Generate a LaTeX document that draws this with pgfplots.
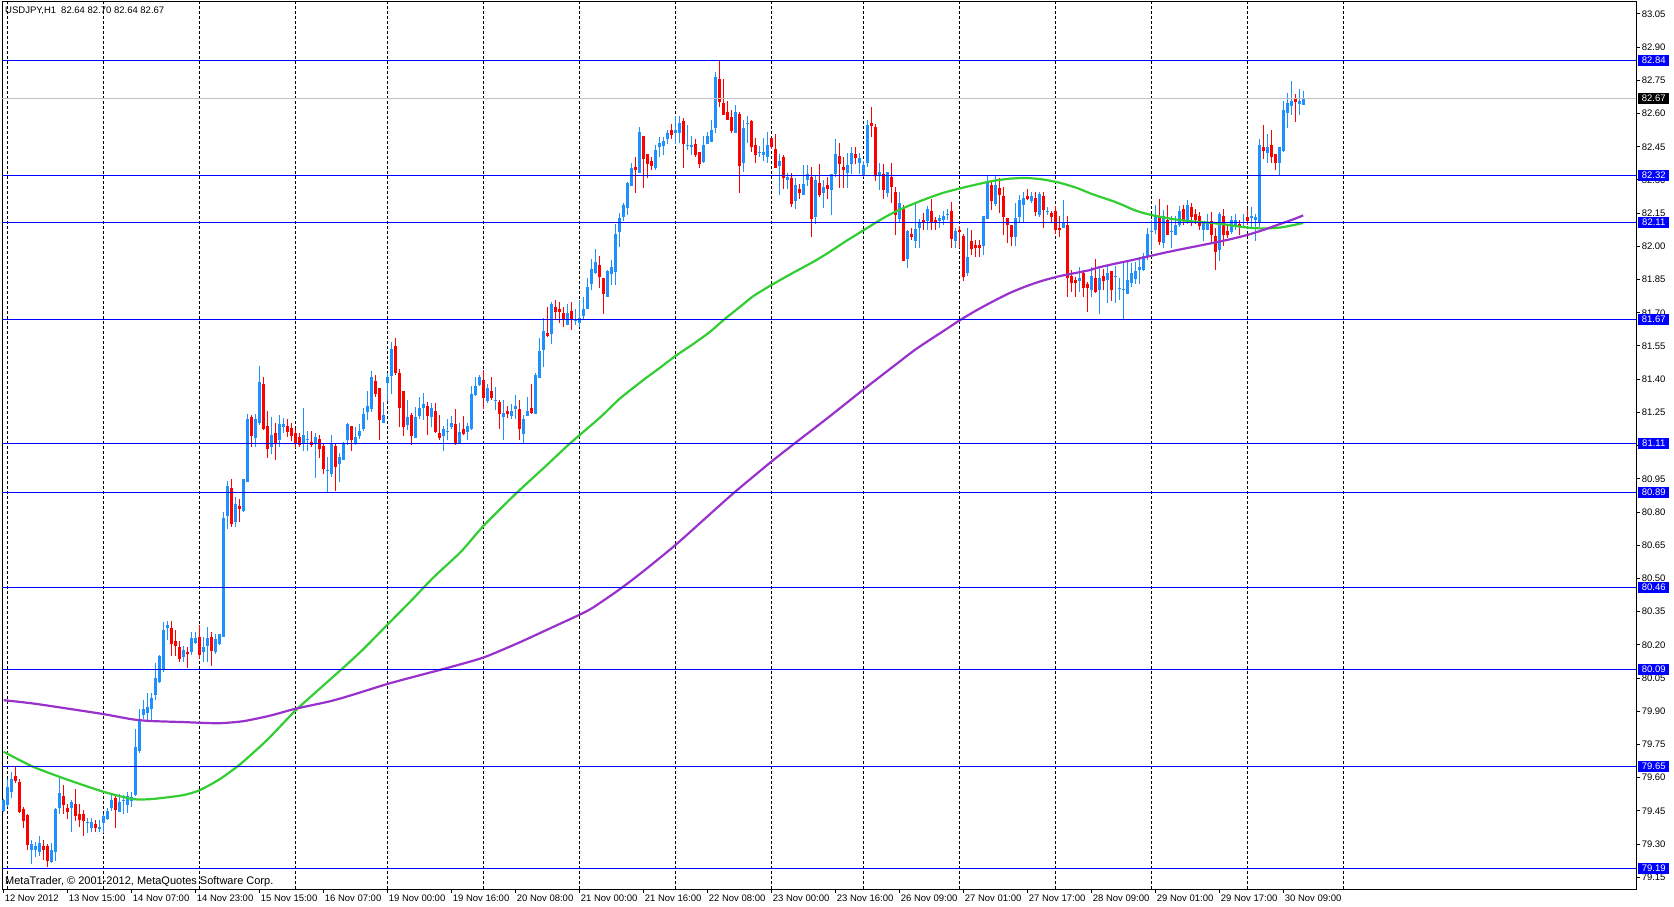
\documentclass[border=0pt]{standalone}
\usepackage{fontspec}
\setmainfont{Liberation Sans}
\usepackage{pgfplots}
\usepackage{pgfplotstable}
\pgfplotsset{compat=1.18}
\definecolor{mtblue}{HTML}{1E90FF}
\definecolor{mtred}{HTML}{FF0000}
\definecolor{lineblue}{HTML}{0000FF}
\definecolor{mtgreen}{HTML}{32CD32}
\definecolor{mtpurple}{HTML}{9932CC}
\definecolor{silverline}{HTML}{C0C0C0}
\newcommand{\tickfont}{\fontsize{9.5}{11}\selectfont}

\pgfplotstableread{
i o h l c
0 79.450 79.505 79.445 79.498
1 79.476 79.596 79.468 79.559
2 79.536 79.626 79.506 79.596
3 79.607 79.646 79.574 79.586
4 79.581 79.596 79.441 79.446
5 79.458 79.468 79.373 79.405
6 79.431 79.438 79.275 79.295
7 79.272 79.318 79.208 79.300
8 79.272 79.310 79.242 79.290
9 79.265 79.337 79.245 79.307
10 79.290 79.318 79.230 79.272
11 79.290 79.300 79.197 79.224
12 79.218 79.306 79.215 79.275
13 79.265 79.461 79.224 79.458
14 79.464 79.604 79.438 79.529
15 79.517 79.566 79.435 79.476
16 79.465 79.483 79.413 79.446
17 79.464 79.501 79.355 79.491
18 79.480 79.548 79.405 79.426
19 79.438 79.479 79.378 79.408
20 79.438 79.456 79.336 79.405
21 79.396 79.416 79.348 79.401
22 79.373 79.416 79.355 79.398
23 79.390 79.408 79.355 79.373
24 79.370 79.408 79.355 79.375
25 79.396 79.435 79.352 79.428
26 79.413 79.461 79.408 79.449
27 79.461 79.525 79.450 79.498
28 79.506 79.528 79.373 79.453
29 79.446 79.528 79.446 79.488
30 79.495 79.521 79.435 79.498
31 79.476 79.536 79.441 79.516
32 79.495 79.536 79.468 79.513
33 79.521 79.818 79.516 79.739
34 79.721 79.908 79.712 79.867
35 79.882 79.953 79.867 79.908
36 79.893 79.983 79.860 79.920
37 79.908 79.983 79.860 79.962
38 79.973 80.119 79.953 80.051
39 80.033 80.153 80.029 80.149
40 80.086 80.304 80.078 80.266
41 80.278 80.307 80.221 80.288
42 80.278 80.307 80.149 80.203
43 80.217 80.266 80.149 80.196
44 80.191 80.217 80.123 80.138
45 80.146 80.194 80.123 80.176
46 80.167 80.191 80.096 80.158
47 80.166 80.257 80.153 80.232
48 80.209 80.257 80.203 80.232
49 80.236 80.289 80.138 80.156
50 80.166 80.236 80.123 80.188
51 80.196 80.279 80.123 80.229
52 80.236 80.256 80.105 80.173
53 80.166 80.247 80.158 80.226
54 80.206 80.251 80.199 80.247
55 80.236 80.800 80.236 80.775
56 80.781 80.940 80.722 80.917
57 80.908 80.948 80.733 80.745
58 80.756 80.869 80.733 80.836
59 80.827 80.858 80.756 80.813
60 80.806 80.950 80.800 80.948
61 80.937 81.245 80.935 81.220
62 81.227 81.238 81.094 81.144
63 81.135 81.245 81.094 81.220
64 81.203 81.459 81.195 81.387
65 81.378 81.409 81.170 81.176
66 81.188 81.256 81.045 81.085
67 81.094 81.227 81.062 81.147
68 81.155 81.200 81.034 81.113
69 81.125 81.238 81.094 81.197
70 81.185 81.223 81.159 81.197
71 81.188 81.220 81.140 81.162
72 81.180 81.200 81.122 81.143
73 81.158 81.177 81.091 81.113
74 81.137 81.155 81.094 81.105
75 81.113 81.268 81.077 81.147
76 81.128 81.165 81.077 81.130
77 81.116 81.165 81.094 81.104
78 81.114 81.158 80.955 81.137
79 81.130 81.150 81.045 81.086
80 81.099 81.113 80.971 80.994
81 80.988 81.049 80.884 80.990
82 80.971 81.147 80.956 81.107
83 81.098 81.110 80.896 81.004
84 81.015 81.067 80.937 81.049
85 81.034 81.117 81.034 81.114
86 81.125 81.200 81.105 81.197
87 81.188 81.188 81.077 81.125
88 81.113 81.182 81.105 81.140
89 81.143 81.197 81.128 81.165
90 81.174 81.268 81.165 81.245
91 81.253 81.347 81.215 81.281
92 81.265 81.436 81.253 81.409
93 81.394 81.417 81.319 81.334
94 81.360 81.360 81.125 81.215
95 81.203 81.298 81.200 81.238
96 81.384 81.429 81.302 81.409
97 81.414 81.569 81.332 81.536
98 81.549 81.584 81.421 81.426
99 81.429 81.446 81.182 81.272
100 81.346 81.346 81.143 81.185
101 81.192 81.305 81.170 81.230
102 81.238 81.248 81.102 81.143
103 81.135 81.275 81.135 81.230
104 81.233 81.320 81.218 81.268
105 81.272 81.336 81.215 81.287
106 81.278 81.298 81.150 81.233
107 81.227 81.293 81.182 81.268
108 81.256 81.293 81.155 81.162
109 81.155 81.237 81.127 81.135
110 81.142 81.188 81.076 81.177
111 81.162 81.222 81.124 81.167
112 81.182 81.233 81.177 81.203
113 81.197 81.267 81.105 81.109
114 81.109 81.200 81.109 81.162
115 81.177 81.233 81.147 81.152
116 81.162 81.200 81.127 81.188
117 81.177 81.368 81.172 81.335
118 81.328 81.411 81.323 81.368
119 81.373 81.418 81.368 81.408
120 81.396 81.441 81.267 81.317
121 81.301 81.378 81.293 81.358
122 81.347 81.408 81.305 81.317
123 81.303 81.365 81.260 81.305
124 81.298 81.305 81.177 81.245
125 81.227 81.305 81.127 81.248
126 81.255 81.278 81.225 81.245
127 81.233 81.290 81.218 81.257
128 81.267 81.328 81.222 81.278
129 81.267 81.308 81.127 81.177
130 81.152 81.237 81.109 81.218
131 81.233 81.320 81.233 81.255
132 81.269 81.378 81.245 81.249
133 81.245 81.429 81.245 81.418
134 81.406 81.587 81.406 81.527
135 81.531 81.677 81.456 81.617
136 81.610 81.727 81.590 81.595
137 81.603 81.750 81.557 81.739
138 81.727 81.757 81.671 81.704
139 81.716 81.750 81.655 81.704
140 81.697 81.727 81.634 81.667
141 81.644 81.739 81.644 81.697
142 81.707 81.750 81.624 81.670
143 81.662 81.715 81.644 81.670
144 81.655 81.757 81.634 81.677
145 81.685 81.772 81.670 81.719
146 81.719 81.858 81.715 81.817
147 81.828 81.945 81.805 81.896
148 81.880 81.986 81.873 81.930
149 81.915 81.956 81.813 81.862
150 81.858 81.858 81.694 81.787
151 81.772 81.893 81.772 81.888
152 81.875 81.938 81.825 81.908
153 81.885 82.103 81.825 82.055
154 82.066 82.149 81.995 82.129
155 82.133 82.197 82.115 82.186
156 82.174 82.290 82.141 82.287
157 82.272 82.377 82.272 82.352
158 82.359 82.402 82.242 82.344
159 82.332 82.540 82.332 82.517
160 82.498 82.498 82.265 82.394
161 82.417 82.417 82.307 82.372
162 82.387 82.402 82.347 82.362
163 82.352 82.457 82.347 82.435
164 82.447 82.492 82.405 82.465
165 82.453 82.492 82.412 82.477
166 82.485 82.528 82.462 82.514
167 82.525 82.555 82.483 82.502
168 82.513 82.588 82.462 82.525
169 82.513 82.588 82.468 82.558
170 82.566 82.578 82.355 82.462
171 82.453 82.548 82.435 82.457
172 82.447 82.498 82.412 82.456
173 82.462 82.487 82.405 82.412
174 82.427 82.427 82.352 82.372
175 82.382 82.498 82.377 82.457
176 82.462 82.517 82.462 82.498
177 82.472 82.573 82.472 82.525
178 82.537 82.788 82.513 82.766
179 82.754 82.840 82.630 82.653
180 82.649 82.754 82.593 82.593
181 82.608 82.656 82.570 82.570
182 82.585 82.615 82.513 82.522
183 82.513 82.638 82.513 82.608
184 82.597 82.608 82.242 82.362
185 82.375 82.570 82.337 82.537
186 82.555 82.588 82.468 82.558
187 82.567 82.573 82.427 82.447
188 82.456 82.490 82.375 82.412
189 82.424 82.453 82.402 82.427
190 82.412 82.490 82.387 82.427
191 82.402 82.517 82.377 82.457
192 82.490 82.490 82.438 82.447
193 82.438 82.507 82.355 82.355
194 82.362 82.417 82.231 82.387
195 82.402 82.412 82.257 82.307
196 82.299 82.332 82.257 82.314
197 82.310 82.332 82.179 82.191
198 82.206 82.307 82.167 82.277
199 82.258 82.284 82.212 82.239
200 82.231 82.367 82.231 82.284
201 82.299 82.367 82.272 82.325
202 82.314 82.359 82.043 82.123
203 82.133 82.322 82.103 82.299
204 82.287 82.374 82.224 82.231
205 82.242 82.299 82.174 82.269
206 82.277 82.314 82.216 82.257
207 82.254 82.326 82.141 82.326
208 82.329 82.487 82.314 82.417
209 82.408 82.465 82.264 82.372
210 82.359 82.405 82.264 82.347
211 82.332 82.420 82.264 82.367
212 82.372 82.447 82.329 82.424
213 82.417 82.447 82.372 82.397
214 82.377 82.420 82.329 82.400
215 82.322 82.387 82.314 82.367
216 82.375 82.573 82.360 82.548
217 82.558 82.631 82.495 82.545
218 82.540 82.555 82.296 82.317
219 82.322 82.375 82.254 82.337
220 82.329 82.372 82.216 82.254
221 82.239 82.337 82.224 82.337
222 82.314 82.375 82.194 82.266
223 82.247 82.269 82.051 82.141
224 82.122 82.247 82.111 82.194
225 82.171 82.186 81.935 81.935
226 81.945 82.076 81.903 82.070
227 82.055 82.081 82.028 82.043
228 82.025 82.191 81.991 82.078
229 82.084 82.122 81.994 82.107
230 82.119 82.152 82.076 82.107
231 82.114 82.182 82.073 82.168
232 82.159 82.216 82.076 82.104
233 82.119 82.134 82.076 82.107
234 82.116 82.141 82.081 82.128
235 82.119 82.159 82.096 82.137
236 82.143 82.171 82.119 82.146
237 82.159 82.201 81.994 82.033
238 82.025 82.081 81.991 82.070
239 82.076 82.091 81.991 82.066
240 82.046 82.055 81.844 81.863
241 81.878 82.085 81.866 81.950
242 82.025 82.073 81.960 81.986
243 82.006 82.028 81.953 81.994
244 82.006 82.028 81.953 81.994
245 82.001 82.137 81.960 82.137
246 82.122 82.317 82.122 82.296
247 82.277 82.299 82.164 82.204
248 82.191 82.317 82.182 82.277
249 82.262 82.307 82.149 82.231
250 82.227 82.269 82.051 82.134
251 82.129 82.129 82.016 82.096
252 82.096 82.096 82.001 82.043
253 82.043 82.197 82.001 82.126
254 82.134 82.232 82.107 82.209
255 82.189 82.247 82.107 82.218
256 82.227 82.257 82.209 82.212
257 82.206 82.247 82.194 82.227
258 82.218 82.247 82.137 82.156
259 82.141 82.247 82.134 82.236
260 82.227 82.247 82.084 82.164
261 82.158 82.179 82.141 82.161
262 82.149 82.159 82.111 82.134
263 82.159 82.182 82.054 82.076
264 82.085 82.137 82.043 82.076
265 82.085 82.209 82.081 82.107
266 82.096 82.137 81.772 81.855
267 81.866 81.893 81.795 81.835
268 81.847 81.863 81.772 81.835
269 81.844 81.908 81.795 81.858
270 81.881 81.893 81.772 81.813
271 81.829 81.840 81.704 81.813
272 81.802 81.905 81.772 81.865
273 81.855 81.945 81.790 81.795
274 81.802 81.905 81.694 81.855
275 81.865 81.900 81.802 81.844
276 81.850 81.911 81.745 81.878
277 81.890 81.890 81.754 81.802
278 81.862 81.911 81.745 81.865
279 81.810 81.855 81.760 81.813
280 81.805 81.923 81.670 81.807
281 81.787 81.938 81.787 81.847
282 81.835 81.923 81.817 81.878
283 81.852 81.930 81.829 81.890
284 81.893 81.950 81.829 81.905
285 81.893 81.968 81.890 81.956
286 81.953 82.081 81.938 82.055
287 82.066 82.121 81.983 82.070
288 82.073 82.186 82.055 82.141
289 82.134 82.216 82.006 82.021
290 82.016 82.164 81.991 82.137
291 82.121 82.186 82.051 82.051
292 82.066 82.137 81.991 82.070
293 82.051 82.137 82.051 82.096
294 82.096 82.182 82.088 82.159
295 82.168 82.186 82.096 82.121
296 82.121 82.209 82.103 82.186
297 82.176 82.194 82.091 82.134
298 82.146 82.168 82.103 82.121
299 82.137 82.156 82.073 82.091
300 82.073 82.114 82.025 82.114
301 82.073 82.146 82.073 82.111
302 82.115 82.156 82.021 82.051
303 82.046 82.081 81.893 81.975
304 81.983 82.156 81.933 82.146
305 82.137 82.171 82.001 82.051
306 82.070 82.103 82.040 82.051
307 82.066 82.137 82.058 82.118
308 82.088 82.146 82.073 82.121
309 82.103 82.121 82.051 82.088
310 82.090 82.146 82.081 82.092
311 82.131 82.167 82.096 82.115
312 82.126 82.179 82.081 82.137
313 82.121 82.146 82.025 82.133
314 82.111 82.487 82.088 82.457
315 82.447 82.547 82.393 82.432
316 82.423 82.507 82.378 82.447
317 82.457 82.525 82.375 82.405
318 82.417 82.417 82.344 82.378
319 82.378 82.447 82.322 82.447
320 82.432 82.658 82.427 82.616
321 82.603 82.691 82.533 82.649
322 82.633 82.748 82.593 82.658
323 82.664 82.688 82.563 82.653
324 82.645 82.713 82.593 82.658
325 82.640 82.700 82.640 82.670
}\candles

\pgfplotstableread{
i v
0 79.717
7.4 79.649
15.8 79.592
25 79.536
32.4 79.503
37.4 79.504
44.9 79.521
49.1 79.544
54.1 79.594
59.1 79.660
65.8 79.769
72.9 79.902
79.1 80.003
85 80.098
89.9 80.180
95.9 80.290
101.8 80.398
107.6 80.507
114.3 80.620
120 80.738
128.3 80.887
135.8 81.012
141.6 81.110
149.1 81.227
154.1 81.313
159.9 81.396
164.1 81.452
167.9 81.504
172.4 81.559
176.6 81.614
179.9 81.666
184.1 81.727
187.4 81.775
191.9 81.825
197.4 81.881
202.4 81.930
205.7 81.966
210.8 82.026
215 82.073
219.1 82.119
222.4 82.152
226.6 82.186
230.8 82.216
234.9 82.242
239.1 82.262
243.3 82.280
247.4 82.296
251.6 82.306
255.8 82.309
259.9 82.302
264.1 82.287
268.3 82.264
271.6 82.240
274.1 82.224
277.4 82.204
279.9 82.186
282.4 82.166
284.9 82.151
287.4 82.140
289.9 82.131
292.4 82.123
294.9 82.117
298.3 82.111
302.4 82.105
306.6 82.096
309.1 82.089
311.6 82.084
314.9 82.081
319.1 82.085
322.4 82.096
324.9 82.106
}\greenma

\pgfplotstableread{
i v
0 79.950
7.4 79.935
16 79.912
25 79.887
32 79.864
36.6 79.856
45 79.851
49 79.848
54.1 79.846
59.9 79.855
66.6 79.880
72.9 79.911
81.6 79.945
87.4 79.975
95.9 80.023
104.1 80.063
110.8 80.095
120 80.143
129.1 80.212
137.4 80.281
144.1 80.337
147.4 80.369
154.1 80.452
159.9 80.532
167.9 80.650
174.9 80.763
182.4 80.884
191.9 81.027
197.9 81.112
205.8 81.222
215 81.354
224.1 81.481
227.4 81.527
230.8 81.569
234.9 81.617
239.1 81.667
243.3 81.712
247.4 81.752
251.6 81.790
255.8 81.821
259.9 81.846
264.1 81.866
268.3 81.881
271.6 81.893
273.3 81.903
277.4 81.920
281.6 81.936
285.8 81.953
289.9 81.970
294.1 81.986
298.3 82.001
302.4 82.016
306.6 82.032
310.8 82.051
314.9 82.074
319.1 82.101
322.4 82.122
324.9 82.140
}\purplema

\begin{document}
\begin{tikzpicture}
\useasboundingbox (-2pt,-17pt) rectangle (1672pt,889pt);
\begin{axis}[
  at={(0pt,0pt)}, anchor=south west,
  scale only axis, width=1634pt, height=887pt,
  xmin=-0.4, xmax=408.1, ymin=79.097, ymax=83.104,
  axis line style={black, line width=1pt},
  tick align=outside, major tick length=4pt,
  tick style={black, line width=1pt},
  xtick pos=left, ytick pos=right, yticklabel pos=right,
  every tick label/.append style={font=\tickfont},
  ytick={79.15,79.30,79.45,79.60,79.75,79.90,80.05,80.20,80.35,80.50,80.65,80.80,80.95,81.10,81.25,81.40,81.55,81.70,81.85,82.00,82.15,82.30,82.45,82.60,82.75,82.90,83.05},
  yticklabels={79.15,79.30,79.45,79.60,79.75,79.90,80.05,80.20,80.35,80.50,80.65,80.80,80.95,81.10,81.25,81.40,81.55,81.70,81.85,82.00,82.15,82.30,82.45,82.60,82.75,82.90,83.05},
  yticklabel style={anchor=west, inner sep=0pt, xshift=1.5pt},
  xtick={0,16,32,48,64,80,96,112,128,144,160,176,192,208,224,240,256,272,288,304,320},
  xticklabels={12 Nov 2012,13 Nov 15:00,14 Nov 07:00,14 Nov 23:00,15 Nov 15:00,16 Nov 07:00,19 Nov 00:00,19 Nov 16:00,20 Nov 08:00,21 Nov 00:00,21 Nov 16:00,22 Nov 08:00,23 Nov 00:00,23 Nov 16:00,26 Nov 09:00,27 Nov 01:00,27 Nov 17:00,28 Nov 09:00,29 Nov 01:00,29 Nov 17:00,30 Nov 09:00},
  xticklabel style={anchor=north west, inner sep=0pt, xshift=1pt, yshift=-1.6pt},
  extra x ticks={1,25,49,73,96,120,144,168,192,215,239,263,287,311,335},
  extra x tick labels={},
  extra x tick style={major tick length=0pt, grid=major,
     major grid style={black, line width=1pt, dash pattern=on 3pt off 2pt}},
]
% wicks
\addplot[draw=none, mark=none, forget plot, error bars/.cd, y dir=plus, y explicit, error mark=none,
  error bar style={draw=mtblue, line width=1pt}]
  table[x=i, y=l, y error expr={(\thisrow{c}>=\thisrow{o})*(\thisrow{h}-\thisrow{l})}] {\candles};
\addplot[draw=none, mark=none, forget plot, error bars/.cd, y dir=plus, y explicit, error mark=none,
  error bar style={draw=mtred, line width=1pt}]
  table[x=i, y=l, y error expr={(\thisrow{c}<\thisrow{o})*(\thisrow{h}-\thisrow{l})}] {\candles};
% bodies
\addplot[draw=none, mark=none, forget plot, error bars/.cd, y dir=plus, y explicit, error mark=none,
  error bar style={draw=mtblue, line width=3pt}]
  table[x=i, y expr={min(\thisrow{o},\thisrow{c})}, y error expr={(\thisrow{c}>=\thisrow{o})*max(\thisrow{c}-\thisrow{o},0.004)}] {\candles};
\addplot[draw=none, mark=none, forget plot, error bars/.cd, y dir=plus, y explicit, error mark=none,
  error bar style={draw=mtred, line width=3pt}]
  table[x=i, y expr={min(\thisrow{o},\thisrow{c})}, y error expr={(\thisrow{c}<\thisrow{o})*max(\thisrow{o}-\thisrow{c},0.004)}] {\candles};
% moving averages
\addplot[mtgreen, line width=2.2pt, line join=round, smooth, tension=0.4] table[x=i, y=v] {\greenma};
\addplot[mtpurple, line width=2.2pt, line join=round, smooth, tension=0.4] table[x=i, y=v] {\purplema};
% horizontal levels
\addplot[silverline, line width=1pt] coordinates {(-0.4,82.67) (408.1,82.67)};
\pgfplotsinvokeforeach{82.84,82.32,82.11,81.67,81.11,80.89,80.46,80.09,79.65,79.19}{
  \addplot[lineblue, line width=1pt] coordinates {(-0.4,#1) (408.1,#1)};
}
\coordinate (ra) at (axis cs:408.1,82.84);
\coordinate (rb) at (axis cs:408.1,82.32);
\coordinate (rc) at (axis cs:408.1,82.11);
\coordinate (rd) at (axis cs:408.1,81.67);
\coordinate (re) at (axis cs:408.1,81.11);
\coordinate (rf) at (axis cs:408.1,80.89);
\coordinate (rg) at (axis cs:408.1,80.46);
\coordinate (rh) at (axis cs:408.1,80.09);
\coordinate (ri) at (axis cs:408.1,79.65);
\coordinate (rj) at (axis cs:408.1,79.19);
\coordinate (rk) at (axis cs:408.1,82.67);
\node[anchor=base west, font=\tickfont, inner sep=0pt] at ([xshift=3pt, yshift=-11.5pt]rel axis cs:0,1) {USDJPY,H1\hspace{5pt}82.64 82.70 82.64 82.67};
\node[anchor=base west, font=\fontsize{11}{12}\selectfont, inner sep=0pt] at ([xshift=3pt, yshift=5pt]rel axis cs:0,0) {MetaTrader, © 2001-2012, MetaQuotes Software Corp.};
\end{axis}
\tikzset{lbl/.style={anchor=west, xshift=2pt, fill=lineblue, text=white, inner sep=0pt, minimum height=11pt, minimum width=31pt, font=\tickfont}}
\node[lbl] at (ra) {82.84};
\node[lbl] at (rb) {82.32};
\node[lbl] at (rc) {82.11};
\node[lbl] at (rd) {81.67};
\node[lbl] at (re) {81.11};
\node[lbl] at (rf) {80.89};
\node[lbl] at (rg) {80.46};
\node[lbl] at (rh) {80.09};
\node[lbl] at (ri) {79.65};
\node[lbl] at (rj) {79.19};
\node[lbl, fill=black] at (rk) {82.67};
\end{tikzpicture}
\end{document}
